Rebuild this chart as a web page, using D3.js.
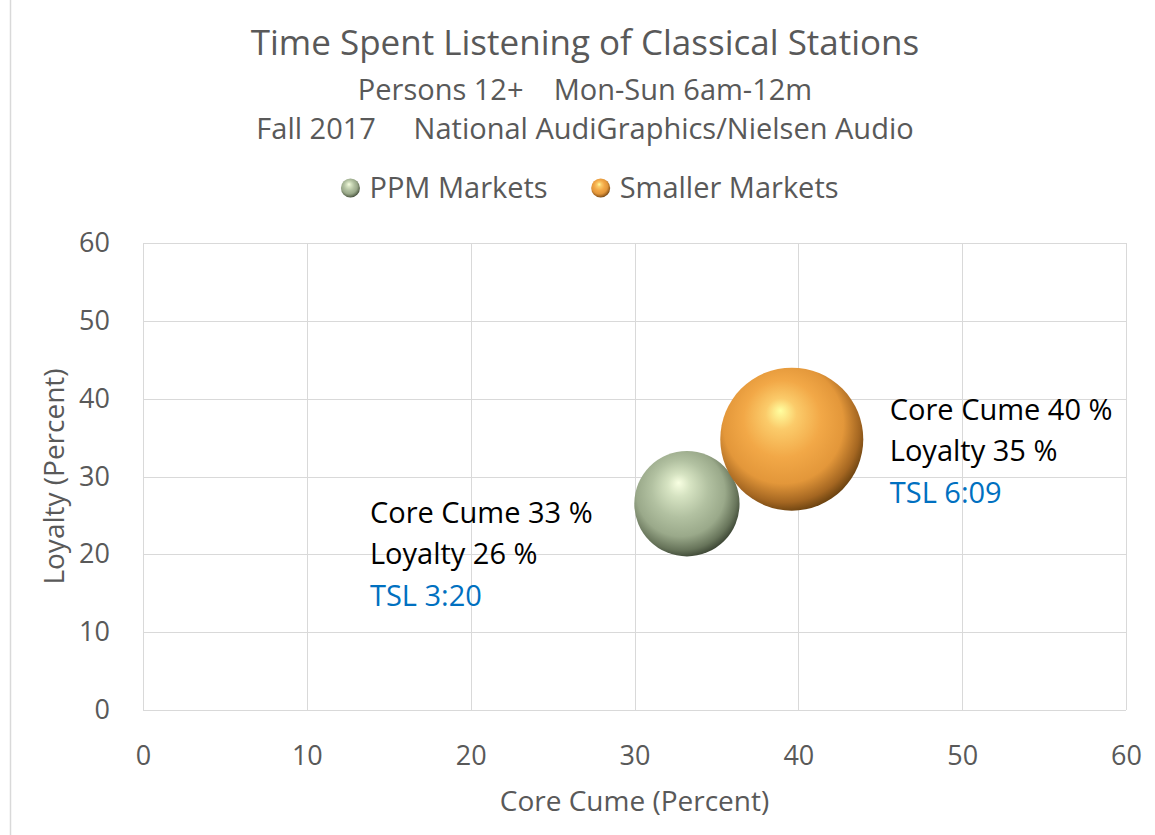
<!DOCTYPE html>
<html>
<head>
<meta charset="utf-8">
<script src="https://cdn.jsdelivr.net/npm/d3@7"></script>
<style>
    body { margin: 0; background: #ffffff; }
    svg { display: block; font-family: 'Open Sans', 'Noto Sans', sans-serif; }
    text { white-space: pre; }
</style>
</head>
<body>
<svg id="chart"></svg>
<script>
// series data
const seriesNames = ['PPM Markets', 'Smaller Markets'];
const coreCume = [33.2, 39.6];
const loyalty = [26.5, 34.8];
const tslMinutes = [200, 369];
const cumeLabels = ['Core Cume 33 %', 'Core Cume 40 %'];
const loyaltyLabels = ['Loyalty 26 %', 'Loyalty 35 %'];
const tslLabels = ['TSL 3:20', 'TSL 6:09'];

// axes
const xTicks = [0, 10, 20, 30, 40, 50, 60];
const yTicks = [0, 10, 20, 30, 40, 50, 60];

const titleLines = [
    'Time Spent Listening of Classical Stations',
    'Persons 12+    Mon-Sun 6am-12m',
    'Fall 2017     National AudiGraphics/Nielsen Audio'
];

const width = 1155;
const height = 835;
const margin = { top: 243, right: 29, bottom: 125, left: 143 };
const textColor = '#595959';
const gridColor = '#d9d9d9';

const palette = [
    ['#f8ffe2', '#d6e3c2', '#b2c1a1', '#9aa98a', '#67745a', '#343d2d'],
    ['#ffffa0', '#fbcb6a', '#f2a847', '#e3973a', '#a46621', '#5e3a0c']
];

const svg = d3.select('#chart')
    .attr('width', width)
    .attr('height', height);

// outer frame edge on the left
svg.append('line')
    .attr('x1', 10.5).attr('x2', 10.5)
    .attr('y1', 0).attr('y2', height)
    .attr('stroke', gridColor)
    .attr('stroke-width', 1.5);

// gradients for the sphere look
const defs = svg.append('defs');
palette.forEach((stops, i) => {
    const g = defs.append('radialGradient')
        .attr('id', `sphere${i}`)
        .attr('cx', 0.45).attr('cy', 0.43).attr('r', 0.6)
        .attr('fx', 0.42).attr('fy', 0.3);
    const offsets = [0, 0.18, 0.45, 0.7, 0.88, 1];
    stops.forEach((c, j) => {
        g.append('stop').attr('offset', offsets[j]).attr('stop-color', c);
    });
});

const x = d3.scaleLinear()
    .domain([0, 60])
    .range([margin.left, width - margin.right]);

const y = d3.scaleLinear()
    .domain([0, 60])
    .range([height - margin.bottom, margin.top]);

const r = d3.scaleSqrt()
    .domain([0, d3.max(tslMinutes)])
    .range([0, 71.5]);

// gridlines
const grid = svg.append('g').attr('class', 'grid');
grid.selectAll('line.v')
    .data(xTicks)
    .enter()
    .append('line')
        .attr('class', 'v')
        .attr('x1', d => Math.round(x(d)) + 0.5)
        .attr('x2', d => Math.round(x(d)) + 0.5)
        .attr('y1', y(60))
        .attr('y2', y(0))
        .attr('stroke', gridColor)
        .attr('stroke-width', 1);
grid.selectAll('line.h')
    .data(yTicks)
    .enter()
    .append('line')
        .attr('class', 'h')
        .attr('x1', x(0))
        .attr('x2', x(60))
        .attr('y1', d => Math.round(y(d)) + 0.5)
        .attr('y2', d => Math.round(y(d)) + 0.5)
        .attr('stroke', gridColor)
        .attr('stroke-width', 1);

// x axis
const xAxis = svg.append('g')
    .attr('transform', `translate(0,${y(0) + 36})`)
    .call(d3.axisBottom(x).tickValues(xTicks).tickSize(0).tickPadding(0));
xAxis.select('.domain').remove();
xAxis.selectAll('text')
    .attr('fill', textColor)
    .attr('font-size', 27)
    .attr('dy', '0.71em')
    .attr('y', 0)
    .style('font-family', "'Open Sans', sans-serif");

// y axis
const yAxis = svg.append('g')
    .attr('transform', `translate(${x(0) - 33},0)`)
    .call(d3.axisLeft(y).tickValues(yTicks).tickSize(0).tickPadding(0));
yAxis.select('.domain').remove();
yAxis.selectAll('text')
    .attr('fill', textColor)
    .attr('font-size', 27)
    .style('font-family', "'Open Sans', sans-serif");

// axis titles
svg.append('text')
    .attr('x', (x(0) + x(60)) / 2)
    .attr('y', 811)
    .attr('text-anchor', 'middle')
    .attr('fill', textColor)
    .attr('font-size', 28)
    .text('Core Cume (Percent)');

svg.append('text')
    .attr('transform', `translate(64,${(y(0) + y(60)) / 2}) rotate(-90)`)
    .attr('text-anchor', 'middle')
    .attr('fill', textColor)
    .attr('font-size', 28)
    .text('Loyalty (Percent)');

// titles
const titleY = [55, 100, 139];
const titleSize = [35, 29, 29];
svg.append('g')
    .selectAll('text.title')
    .data(titleLines)
    .enter()
    .append('text')
        .attr('class', 'title')
        .attr('x', 585)
        .attr('y', (d, i) => titleY[i])
        .attr('text-anchor', 'middle')
        .attr('fill', textColor)
        .attr('font-size', (d, i) => titleSize[i])
        .text(d => d);

// legend
const legend = svg.append('g').attr('class', 'legend');
let lx = 0;
seriesNames.forEach((name, i) => {
    const item = legend.append('g').attr('transform', `translate(${lx},0)`);
    item.append('circle')
        .attr('cx', 9)
        .attr('cy', -10)
        .attr('r', 9.5)
        .attr('fill', `url(#sphere${i})`);
    const t = item.append('text')
        .attr('x', 28)
        .attr('y', 0)
        .attr('fill', textColor)
        .attr('font-size', 29)
        .text(name);
    lx += 28 + t.node().getComputedTextLength() + 44;
});
const legendW = lx - 44;
legend.attr('transform', `translate(${590 - legendW / 2},198)`);

// bubbles
const bubbles = svg.append('g').attr('class', 'bubbles');
bubbles.selectAll('circle')
    .data(seriesNames.map((name, i) => ({ name, i })))
    .enter()
    .append('circle')
        .attr('cx', d => x(coreCume[d.i]))
        .attr('cy', d => y(loyalty[d.i]))
        .attr('r', d => r(tslMinutes[d.i]))
        .attr('fill', d => `url(#sphere${d.i})`);

// data labels, placed beside each bubble
const labelOffset = [[-317, 19], [98, -19]];
const lineDy = [0, 41, 83];
seriesNames.forEach((name, i) => {
    const lx0 = x(coreCume[i]) + labelOffset[i][0];
    const ly0 = y(loyalty[i]) + labelOffset[i][1];
    const lines = [cumeLabels[i], loyaltyLabels[i], tslLabels[i]];
    const colors = ['#000000', '#000000', '#0070c0'];
    svg.append('g')
        .selectAll('text')
        .data(lines)
        .enter()
        .append('text')
            .attr('x', lx0)
            .attr('y', (d, j) => ly0 + lineDy[j])
            .attr('fill', (d, j) => colors[j])
            .attr('font-size', 29)
            .text(d => d);
});
</script>
</body>
</html>
